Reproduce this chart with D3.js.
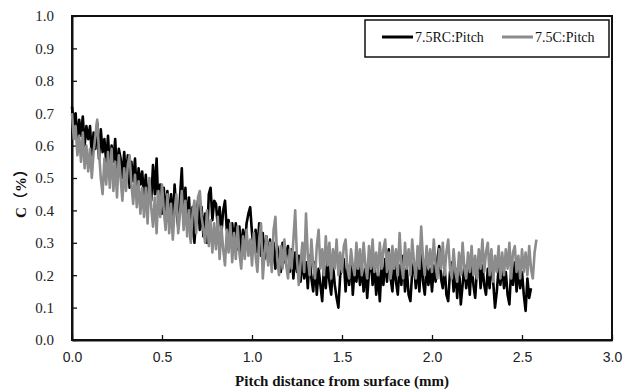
<!DOCTYPE html>
<html>
<head>
<meta charset="utf-8">
<script src="https://cdn.jsdelivr.net/npm/d3@7"></script>
<style>
  body { margin: 0; background: #fff; }
  svg { display: block; }
</style>
</head>
<body>
<svg id="chart" width="630" height="392"></svg>
<script>
// distance step (mm) shared by both series
const step = 0.01;

// 7.5RC:Pitch, C (%) every 0.01 mm from 0 to 2.55 (one row per 0.1 mm)
const rcValues = [
  0.72, 0.66, 0.70, 0.61, 0.68, 0.63, 0.69, 0.60, 0.66, 0.62,
  0.66, 0.57, 0.64, 0.59, 0.67, 0.56, 0.65, 0.58, 0.62, 0.55,
  0.63, 0.53, 0.60, 0.55, 0.62, 0.51, 0.59, 0.56, 0.50, 0.58,
  0.50, 0.57, 0.47, 0.55, 0.49, 0.56, 0.45, 0.53, 0.48, 0.52,
  0.44, 0.51, 0.42, 0.49, 0.43, 0.54, 0.45, 0.56, 0.41, 0.48,
  0.39, 0.47, 0.38, 0.46, 0.37, 0.45, 0.36, 0.48, 0.40, 0.35,
  0.44, 0.53, 0.37, 0.47, 0.35, 0.44, 0.31, 0.41, 0.30, 0.38,
  0.43, 0.34, 0.41, 0.32, 0.39, 0.30, 0.45, 0.47, 0.37, 0.43,
  0.42, 0.35, 0.41, 0.33, 0.40, 0.43, 0.34, 0.37, 0.29, 0.36,
  0.30, 0.36, 0.28, 0.35, 0.27, 0.34, 0.29, 0.36, 0.39, 0.41,
  0.33, 0.28, 0.34, 0.27, 0.36, 0.26, 0.33, 0.25, 0.32, 0.24,
  0.31, 0.23, 0.30, 0.22, 0.29, 0.26, 0.21, 0.30, 0.24, 0.27,
  0.29, 0.21, 0.28, 0.19, 0.27, 0.21, 0.26, 0.18, 0.25, 0.19,
  0.24, 0.16, 0.26, 0.19, 0.15, 0.24, 0.14, 0.22, 0.17, 0.12,
  0.23, 0.16, 0.25, 0.18, 0.14, 0.23, 0.17, 0.13, 0.10, 0.20,
  0.22, 0.25, 0.15, 0.23, 0.17, 0.26, 0.14, 0.22, 0.18, 0.24,
  0.17, 0.23, 0.15, 0.22, 0.13, 0.21, 0.25, 0.17, 0.23, 0.14,
  0.21, 0.12, 0.23, 0.17, 0.25, 0.18, 0.28, 0.19, 0.15, 0.24,
  0.18, 0.14, 0.23, 0.17, 0.26, 0.15, 0.22, 0.14, 0.12, 0.21,
  0.24, 0.16, 0.23, 0.15, 0.27, 0.18, 0.14, 0.23, 0.17, 0.22,
  0.15, 0.23, 0.18, 0.25, 0.29, 0.19, 0.16, 0.23, 0.14, 0.12,
  0.21, 0.24, 0.15, 0.22, 0.13, 0.23, 0.11, 0.17, 0.23, 0.16,
  0.22, 0.14, 0.24, 0.17, 0.13, 0.22, 0.25, 0.16, 0.23, 0.17,
  0.14, 0.22, 0.16, 0.24, 0.18, 0.10, 0.15, 0.22, 0.17, 0.23,
  0.16, 0.21, 0.14, 0.11, 0.22, 0.17, 0.24, 0.15, 0.22, 0.16,
  0.21, 0.14, 0.09, 0.19, 0.13, 0.16
];

// 7.5C:Pitch, C (%) every 0.01 mm from 0 to 2.58 (one row per 0.1 mm)
const cValues = [
  0.70, 0.62, 0.66, 0.57, 0.63, 0.55, 0.64, 0.53, 0.60, 0.52,
  0.59, 0.50, 0.58, 0.63, 0.68, 0.58, 0.50, 0.45, 0.56, 0.48,
  0.58, 0.47, 0.59, 0.46, 0.55, 0.44, 0.57, 0.50, 0.43, 0.53,
  0.46, 0.54, 0.57, 0.48, 0.42, 0.51, 0.41, 0.49, 0.39, 0.47,
  0.38, 0.47, 0.36, 0.50, 0.41, 0.35, 0.44, 0.33, 0.46, 0.38,
  0.48, 0.40, 0.34, 0.45, 0.33, 0.42, 0.31, 0.40, 0.45, 0.33,
  0.39, 0.46, 0.34, 0.43, 0.32, 0.40, 0.30, 0.39, 0.43, 0.33,
  0.44, 0.46, 0.38, 0.34, 0.30, 0.40, 0.29, 0.37, 0.27, 0.36,
  0.28, 0.38, 0.25, 0.35, 0.28, 0.23, 0.34, 0.27, 0.36, 0.24,
  0.33, 0.25, 0.35, 0.27, 0.22, 0.32, 0.25, 0.34, 0.26, 0.31,
  0.23, 0.33, 0.26, 0.21, 0.31, 0.36, 0.19, 0.27, 0.32, 0.23,
  0.30, 0.21, 0.34, 0.38, 0.25, 0.20, 0.29, 0.22, 0.31, 0.23,
  0.19, 0.28, 0.22, 0.31, 0.40, 0.25, 0.17, 0.24, 0.30, 0.21,
  0.39, 0.26, 0.20, 0.31, 0.23, 0.19, 0.29, 0.34, 0.22, 0.28,
  0.20, 0.32, 0.23, 0.30, 0.19, 0.28, 0.22, 0.31, 0.20, 0.27,
  0.21, 0.29, 0.31, 0.22, 0.19, 0.28, 0.23, 0.20, 0.30, 0.22,
  0.28, 0.20, 0.30, 0.23, 0.19, 0.29, 0.22, 0.31, 0.21, 0.27,
  0.20, 0.30, 0.22, 0.28, 0.31, 0.21, 0.27, 0.19, 0.29, 0.22,
  0.28, 0.20, 0.33, 0.23, 0.19, 0.30, 0.22, 0.28, 0.20, 0.31,
  0.24, 0.19, 0.29, 0.22, 0.35, 0.25, 0.20, 0.29, 0.22, 0.28,
  0.21, 0.31, 0.23, 0.19, 0.28, 0.22, 0.30, 0.20, 0.27, 0.31,
  0.22, 0.19, 0.28, 0.21, 0.18, 0.27, 0.20, 0.30, 0.22, 0.19,
  0.27, 0.21, 0.29, 0.20, 0.26, 0.19, 0.28, 0.22, 0.31, 0.21,
  0.27, 0.30, 0.20, 0.28, 0.18, 0.26, 0.21, 0.29, 0.19, 0.27,
  0.20, 0.28, 0.22, 0.30, 0.19, 0.27, 0.29, 0.21, 0.26, 0.19,
  0.28, 0.21, 0.27, 0.20, 0.29, 0.22, 0.19, 0.27, 0.31
];

const seriesNames  = ["7.5RC:Pitch", "7.5C:Pitch"];
const seriesColors = ["#000000", "#8c8c8c"];
const xTicks = [0, 0.5, 1.0, 1.5, 2.0, 2.5, 3.0];
const yTicks = [0, 0.1, 0.2, 0.3, 0.4, 0.5, 0.6, 0.7, 0.8, 0.9, 1.0];

const margin = { left: 72, top: 16, right: 18, bottom: 52 };
const width  = 630, height = 392;

const svg = d3.select("#chart");

const x = d3.scaleLinear().domain([0, 3]).range([margin.left, width - margin.right]);
const y = d3.scaleLinear().domain([0, 1]).range([height - margin.bottom, margin.top]);

// plot frame
svg.append("rect")
  .attr("x", x(0)).attr("y", y(1))
  .attr("width", x(3) - x(0)).attr("height", y(0) - y(1))
  .attr("fill", "none").attr("stroke", "#111").attr("stroke-width", 2);

// axes with inward ticks
const xAxis = svg.append("g")
  .attr("transform", `translate(0,${y(0)})`)
  .call(d3.axisBottom(x).tickValues(xTicks).tickFormat(d3.format(".1f")).tickSizeInner(-5).tickSizeOuter(0).tickPadding(12));
xAxis.select(".domain").attr("stroke", "#111").attr("stroke-width", 2);
xAxis.selectAll(".tick line").attr("stroke", "#111").attr("stroke-width", 1.3);
xAxis.selectAll(".tick text")
  .attr("font-family", "'Liberation Sans', Arial, sans-serif")
  .attr("font-size", 14).attr("fill", "#222");

const yAxis = svg.append("g")
  .attr("transform", `translate(${x(0)},0)`)
  .call(d3.axisLeft(y).tickValues(yTicks).tickFormat(d3.format(".1f")).tickSizeInner(-5).tickSizeOuter(0).tickPadding(18));
yAxis.select(".domain").attr("stroke", "#111").attr("stroke-width", 2);
yAxis.selectAll(".tick line").attr("stroke", "#111").attr("stroke-width", 1.3);
yAxis.selectAll(".tick text")
  .attr("font-family", "'Liberation Serif', 'Times New Roman', serif")
  .attr("font-size", 15).attr("fill", "#222");

// series lines, grey drawn last so it sits on top
const line = d3.line()
  .x((d, i) => x(i * step))
  .y(d => y(d));

[rcValues, cValues].forEach((values, idx) => {
  svg.append("path")
    .datum(values)
    .attr("d", line)
    .attr("fill", "none")
    .attr("stroke", seriesColors[idx])
    .attr("stroke-width", 2.6)
    .attr("stroke-linejoin", "round");
});

// legend
const legend = svg.append("g");
legend.append("rect")
  .attr("x", 365).attr("y", 20).attr("width", 244).attr("height", 37)
  .attr("fill", "#fff").attr("stroke", "#111").attr("stroke-width", 1.5);

const legendX = [382, 502];
seriesNames.forEach((name, idx) => {
  legend.append("line")
    .attr("x1", legendX[idx]).attr("x2", legendX[idx] + 31)
    .attr("y1", 37).attr("y2", 37)
    .attr("stroke", seriesColors[idx]).attr("stroke-width", 3);
  legend.append("text")
    .attr("x", legendX[idx] + 33).attr("y", 42)
    .attr("font-family", "'Liberation Serif', 'Times New Roman', serif")
    .attr("font-size", 14).attr("fill", "#111")
    .text(name);
});

// axis titles
svg.append("text")
  .attr("x", (x(0) + x(3)) / 2).attr("y", 386)
  .attr("text-anchor", "middle")
  .attr("font-family", "'Liberation Serif', 'Times New Roman', serif")
  .attr("font-size", 15).attr("font-weight", "bold").attr("fill", "#111")
  .text("Pitch distance from surface (mm)");

svg.append("text")
  .attr("transform", `translate(26,${y(0.5) + 12}) rotate(-90)`)
  .attr("text-anchor", "middle")
  .attr("font-family", "'Liberation Serif', 'Noto Sans CJK SC', serif")
  .attr("font-size", 15).attr("font-weight", "bold").attr("fill", "#111")
  .text("C（%）");
</script>
</body>
</html>
